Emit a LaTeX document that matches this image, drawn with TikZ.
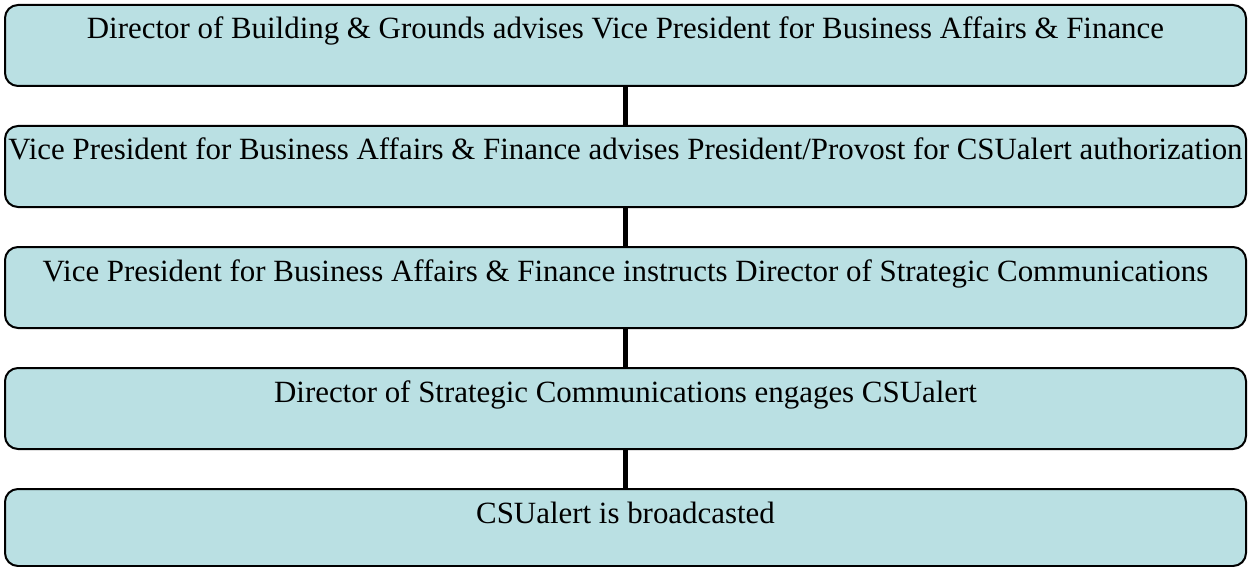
\documentclass[tikz,border=0pt]{standalone}
\usepackage{fontspec}
\setmainfont{Liberation Serif}

\begin{document}
\begin{tikzpicture}[x=1pt,y=1pt]
\definecolor{my_cyan}{RGB}{186,224,227}
\tikzset{stage/.style={draw=black, fill=my_cyan, line width=2pt, rounded corners=13pt, inner sep=0pt, anchor=north, minimum width=1241pt, text height=34pt, text depth=47pt, font=\fontsize{30.9}{36}\selectfont}}
\useasboundingbox (0,0) rectangle (1251,-567);
\node[stage] (s1) at (625.5,-4) {Director of Building \& Grounds advises Vice President for Business Affairs \& Finance};
\node[stage] (s2) at (625.5,-125) {Vice President for Business Affairs \& Finance advises President/Provost for CSUalert authorization};
\node[stage] (s3) at (625.5,-246) {Vice President for Business Affairs \& Finance instructs Director of Strategic Communications};
\node[stage] (s4) at (625.5,-367) {Director of Strategic Communications engages CSUalert};
\node[stage, text depth=43pt] (s5) at (625.5,-488) {CSUalert is broadcasted};
\draw[line width=5pt] (s1.south) -- (s2.north);
\draw[line width=5pt] (s2.south) -- (s3.north);
\draw[line width=5pt] (s3.south) -- (s4.north);
\draw[line width=5pt] (s4.south) -- (s5.north);
\end{tikzpicture}
\end{document}
